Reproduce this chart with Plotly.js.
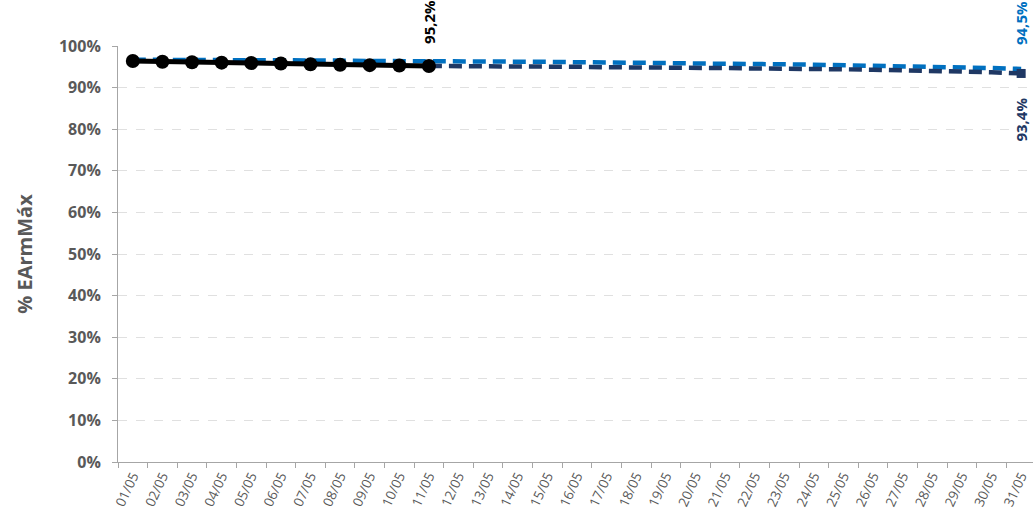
<!DOCTYPE html>
<html>
<head>
<meta charset="utf-8">
<script src="https://cdn.plot.ly/plotly-3.0.1.min.js"></script>
<style>html,body{margin:0;padding:0;background:#fff;}#chart{width:1033px;height:522px;}</style>
</head>
<body>
<div id="chart"></div>
<script>
const dates = ["01/05","02/05","03/05","04/05","05/05","06/05","07/05","08/05","09/05","10/05","11/05","12/05","13/05","14/05","15/05","16/05","17/05","18/05","19/05","20/05","21/05","22/05","23/05","24/05","25/05","26/05","27/05","28/05","29/05","30/05","31/05"];
const blueSeries = [96.7,96.7,96.6,96.6,96.6,96.5,96.5,96.5,96.4,96.4,96.4,96.3,96.3,96.2,96.2,96.1,96.1,96.0,95.9,95.8,95.8,95.7,95.6,95.5,95.4,95.3,95.2,95.0,94.9,94.7,94.5];
const navyDates = dates.slice(10);
const navySeries = [95.2,95.2,95.1,95.1,95.0,95.0,94.9,94.9,94.8,94.8,94.7,94.6,94.6,94.5,94.4,94.3,94.2,94.1,93.9,93.7,93.4];
const blackDates = dates.slice(0,11);
const blackSeries = [96.4,96.2,96.1,96.0,95.9,95.8,95.6,95.5,95.4,95.3,95.2];

const BLUE = "#0070C0", NAVY = "#1F3864", BLACK = "#000000", GREY = "#595959";
const fmt = v => v.toFixed(1).replace('.', ',') + '%';
const last = a => a[a.length-1];

const traces = [
  {x: dates, y: blueSeries, type: 'scatter', mode: 'lines', line: {color: BLUE, width: 4.5, dash: '13px,7px'}, hoverinfo: 'skip', cliponaxis: false},
  {x: navyDates, y: navySeries, type: 'scatter', mode: 'lines', line: {color: NAVY, width: 4.5, dash: '13px,7px'}, hoverinfo: 'skip', cliponaxis: false},
  {x: [last(navyDates)], y: [last(navySeries)], type: 'scatter', mode: 'markers',
   marker: {symbol: 'square', size: 9, color: NAVY, opacity: 1, line: {width: 0}}, hoverinfo: 'skip', cliponaxis: false},
  {x: blackDates, y: blackSeries, type: 'scatter', mode: 'lines+markers', line: {color: BLACK, width: 5}, marker: {color: BLACK, size: 14}, hoverinfo: 'skip', cliponaxis: false}
];

const lblFont = c => ({family: 'Open Sans, sans-serif', size: 15, color: c, weight: 'bold'});
const annotations = [
  {x: last(blackDates), y: last(blackSeries), xref: 'x', yref: 'y', text: '<b>' + fmt(last(blackSeries)) + '</b>', textangle: -90, showarrow: false, yanchor: 'bottom', xanchor: 'center', yshift: 20, font: lblFont(BLACK)},
  {x: last(dates), y: last(blueSeries), xref: 'x', yref: 'y', text: '<b>' + fmt(last(blueSeries)) + '</b>', textangle: -90, showarrow: false, yanchor: 'bottom', xanchor: 'center', yshift: 22, xshift: 0, font: lblFont(BLUE)},
  {x: last(navyDates), y: last(navySeries), xref: 'x', yref: 'y', text: '<b>' + fmt(last(navySeries)) + '</b>', textangle: -90, showarrow: false, yanchor: 'top', xanchor: 'center', yshift: -22, xshift: 0, font: lblFont(NAVY)}
];

const layout = {
  width: 1033, height: 522,
  margin: {l: 118, r: 0, t: 46, b: 60},
  paper_bgcolor: '#fff', plot_bgcolor: '#fff',
  showlegend: false,
  xaxis: {
    type: 'category', range: [-0.5, 30.4],
    tickson: 'boundaries', ticks: 'outside', ticklen: 5, tickcolor: '#a6a6a6',
    showline: true, linecolor: '#a6a6a6', linewidth: 1,
    showgrid: false, tickangle: -65,
    tickfont: {family: 'Open Sans, sans-serif', size: 13.5, color: GREY},
    fixedrange: true
  },
  yaxis: {
    range: [0, 100], dtick: 10, ticksuffix: '%',
    ticks: 'outside', ticklen: 5, tickcolor: '#a6a6a6',
    ticklabelstandoff: 8,
    showline: true, linecolor: '#a6a6a6', linewidth: 1,
    showgrid: true, gridcolor: '#e0e0e0', griddash: 'dash', gridwidth: 1,
    zeroline: false,
    tickfont: {family: 'Open Sans, sans-serif', size: 16, color: GREY, weight: 'bold'},
    title: {text: '<b>% EArmMáx</b>', font: {family: 'Open Sans, sans-serif', size: 20, color: GREY}, standoff: 20},
    fixedrange: true
  },
  annotations: annotations
};

Plotly.newPlot('chart', traces, layout, {displayModeBar: false, staticPlot: true});
</script>
</body>
</html>
